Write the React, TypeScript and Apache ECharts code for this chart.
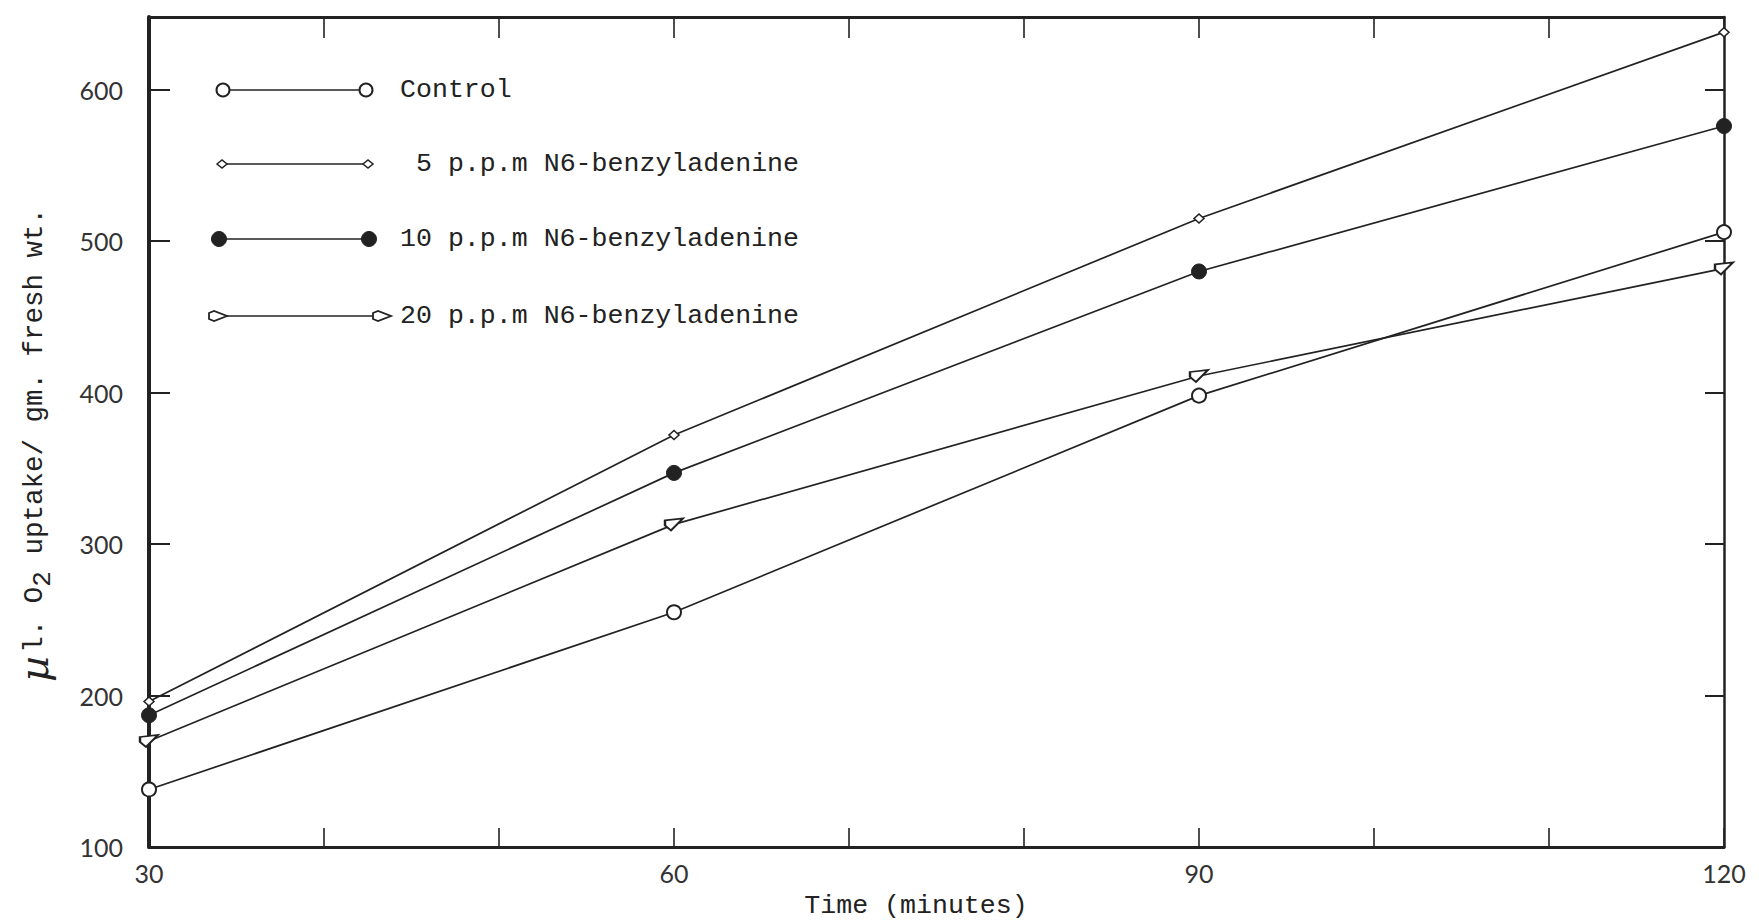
import React, { useEffect, useRef } from "react";
import * as echarts from "echarts";

const times = [30, 60, 90, 120];
const controlValues = [138, 255, 398, 506];
const ppm5Values = [196, 372, 515, 638];
const ppm10Values = [187, 347, 480, 576];
const ppm20Values = [170, 313, 411, 482];
const seriesNames = [
  "Control",
  "5 p.p.m N6-benzyladenine",
  "10 p.p.m N6-benzyladenine",
  "20 p.p.m N6-benzyladenine",
];
const xLabelTicks = [30, 60, 90, 120];
const yLabelTicks = [100, 200, 300, 400, 500, 600];

const INK = "#222222";
const MONO = "'Liberation Mono', 'DejaVu Sans Mono', monospace";
const SANS = "Lato, 'Open Sans', sans-serif";
const KITE = "path://M0,2 L18,0 L6,12 L0,7 Z";

const pairs = (vals: number[]) => times.map((t, i) => [t, vals[i]]);

function legendMarker(kind: string, x: number, y: number): any {
  if (kind === "circle")
    return { type: "circle", shape: { cx: x, cy: y, r: 6.5 }, style: { fill: "#fff", stroke: INK, lineWidth: 2 }, z: 10 };
  if (kind === "dot")
    return { type: "circle", shape: { cx: x, cy: y, r: 7.5 }, style: { fill: INK, stroke: INK, lineWidth: 1 }, z: 10 };
  if (kind === "diamond")
    return {
      type: "polygon",
      shape: { points: [[x - 5, y], [x, y - 4], [x + 5, y], [x, y + 4]] },
      style: { fill: "#fff", stroke: INK, lineWidth: 1.5 },
      z: 10,
    };
  return {
    type: "polygon",
    shape: { points: [[x - 9, y - 3], [x - 4, y - 5], [x + 9, y], [x - 4, y + 5], [x - 9, y + 3]] },
    style: { fill: "#fff", stroke: INK, lineWidth: 1.8 },
    z: 10,
  };
}

export default function App() {
  const ref = useRef<HTMLDivElement>(null);
  useEffect(() => {
    document.body.style.margin = "0";
    const chart = echarts.init(ref.current!, null, { renderer: "svg" });

    const legendRows = [
      { kind: "circle", y: 90, x1: 223, x2: 366, tx: 400 },
      { kind: "diamond", y: 164, x1: 222, x2: 368, tx: 416 },
      { kind: "dot", y: 239, x1: 219, x2: 369, tx: 400 },
      { kind: "kite", y: 316, x1: 218, x2: 382, tx: 400 },
    ];
    const legendGraphics: any[] = [];
    legendRows.forEach((r, i) => {
      legendGraphics.push({
        type: "line",
        shape: { x1: r.x1, y1: r.y, x2: r.x2, y2: r.y },
        style: { stroke: INK, lineWidth: 1.7 },
      });
      legendGraphics.push(legendMarker(r.kind, r.x1, r.y));
      legendGraphics.push(legendMarker(r.kind, r.x2, r.y));
      legendGraphics.push({
        type: "text",
        x: r.tx,
        y: r.y,
        style: { text: seriesNames[i], font: `26.6px ${MONO}`, fill: INK, verticalAlign: "middle", align: "left" },
      });
    });

    const lineStyle = { color: INK, width: 1.7 };
    const option: any = {
      animation: false,
      backgroundColor: "#ffffff",
      grid: { left: 149, right: 35, top: 17, bottom: 77 },
      xAxis: [
        {
          type: "value",
          min: 30,
          max: 120,
          interval: 10,
          position: "bottom",
          axisLine: { show: true, lineStyle: { color: INK, width: 3 } },
          axisTick: { show: true, inside: true, length: 19, lineStyle: { color: INK, width: 1.6 } },
          axisLabel: {
            formatter: (v: number) => (xLabelTicks.includes(v) ? String(v) : ""),
            margin: 13,
            fontFamily: SANS,
            fontSize: 25,
            color: "#333",
          },
          splitLine: { show: false },
        },
        {
          type: "value",
          min: 30,
          max: 120,
          interval: 10,
          position: "top",
          axisLine: { show: true, lineStyle: { color: INK, width: 3 } },
          axisTick: { show: true, inside: true, length: 21, lineStyle: { color: INK, width: 1.6 } },
          axisLabel: { show: false },
          splitLine: { show: false },
        },
      ],
      yAxis: [
        {
          type: "value",
          min: 100,
          max: 648,
          interval: 100,
          position: "left",
          axisLine: { show: true, lineStyle: { color: INK, width: 4 } },
          axisTick: { show: true, inside: true, length: 21, lineStyle: { color: INK, width: 2 } },
          axisLabel: {
            formatter: (v: number) => (yLabelTicks.includes(v) ? String(v) : ""),
            showMaxLabel: false,
            margin: 26,
            fontFamily: SANS,
            fontSize: 25,
            color: "#333",
          },
          splitLine: { show: false },
        },
        {
          type: "value",
          min: 100,
          max: 648,
          interval: 100,
          position: "right",
          axisLine: { show: true, lineStyle: { color: INK, width: 2.5 } },
          axisTick: { show: true, inside: true, length: 19, lineStyle: { color: INK, width: 2 } },
          axisLabel: { show: false },
          splitLine: { show: false },
        },
      ],
      series: [
        {
          name: seriesNames[0],
          type: "line",
          data: pairs(controlValues),
          symbol: "circle",
          symbolSize: 14,
          lineStyle,
          itemStyle: { color: "#fff", borderColor: INK, borderWidth: 2 },
          z: 3,
        },
        {
          name: seriesNames[1],
          type: "line",
          data: pairs(ppm5Values),
          symbol: "diamond",
          symbolSize: [10, 9],
          lineStyle,
          itemStyle: { color: "#fff", borderColor: INK, borderWidth: 1.5 },
          z: 3,
        },
        {
          name: seriesNames[2],
          type: "line",
          data: pairs(ppm10Values),
          symbol: "circle",
          symbolSize: 15,
          lineStyle,
          itemStyle: { color: INK, borderColor: INK, borderWidth: 1 },
          z: 3,
        },
        {
          name: seriesNames[3],
          type: "line",
          data: pairs(ppm20Values),
          symbol: KITE,
          symbolSize: [18, 12],
          lineStyle,
          itemStyle: { color: "#fff", borderColor: INK, borderWidth: 2 },
          z: 3,
        },
      ],
      graphic: [
        ...legendGraphics,
        {
          type: "text",
          x: 916,
          y: 906,
          style: { text: "Time (minutes)", font: `26.6px ${MONO}`, fill: INK, align: "center", verticalAlign: "middle" },
        },
        {
          type: "text",
          x: 34,
          y: 445,
          rotation: Math.PI / 2,
          style: {
            text: "{mu|µ} {t|l. O}{sub|2}{t| uptake/ gm. fresh wt.}",
            align: "center",
            verticalAlign: "middle",
            fill: INK,
            rich: {
              mu: { fontFamily: "'DejaVu Serif', serif", fontStyle: "italic", fontSize: 40, lineHeight: 44, verticalAlign: "middle", fill: INK },
              t: { fontFamily: MONO, fontSize: 27.5, lineHeight: 44, verticalAlign: "middle", fill: INK },
              sub: { fontFamily: MONO, fontSize: 26, lineHeight: 44, verticalAlign: "bottom", fill: INK },
            },
          },
        },
      ],
    };
    chart.setOption(option);
    return () => chart.dispose();
  }, []);
  return <div ref={ref} style={{ width: 1759, height: 924 }} />;
}
